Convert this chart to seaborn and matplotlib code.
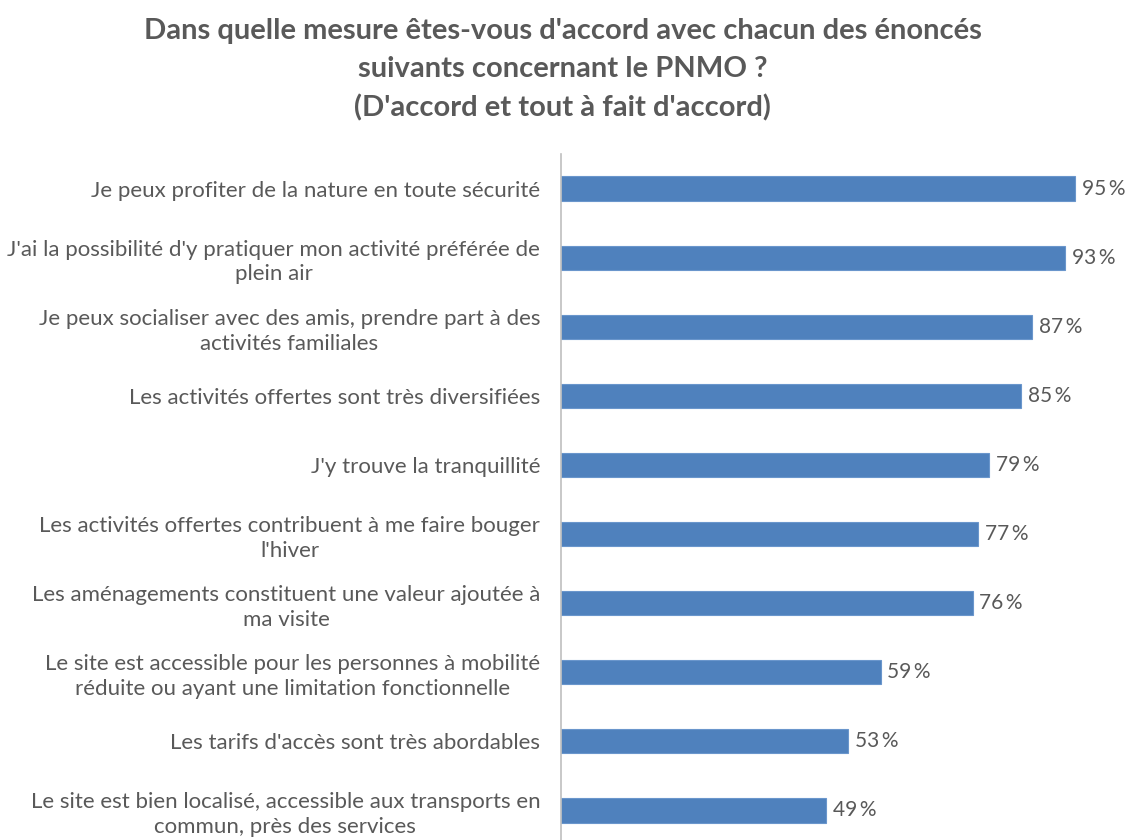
import matplotlib
matplotlib.use("Agg")
import matplotlib.pyplot as plt
import seaborn as sns
import pandas as pd
import numpy as np

statements = [
    "Je peux profiter de la nature en toute sécurité",
    "J'ai la possibilité d'y pratiquer mon activité préférée de\nplein air",
    "Je peux socialiser avec des amis, prendre part à des\nactivités familiales",
    "Les activités offertes sont très diversifiées",
    "J'y trouve la tranquillité",
    "Les activités offertes contribuent à me faire bouger\nl'hiver",
    "Les aménagements constituent une valeur ajoutée à\nma visite",
    "Le site est accessible pour les personnes à mobilité\nréduite ou ayant une limitation fonctionnelle",
    "Les tarifs d'accès sont très abordables",
    "Le site est bien localisé, accessible aux transports en\ncommun, près des services",
]
pct_agree = [95, 93, 87, 85, 79, 77, 76, 59, 53, 49]

df = pd.DataFrame({"statement": statements, "pct": pct_agree})

sns.set_style("white")
plt.rcParams["font.family"] = ["Lato", "DejaVu Sans"]
text_col = "#595959"

fig = plt.figure(figsize=(11.25, 8.4), dpi=100)
ax = fig.add_axes([0.4987, -0.006, 0.4813, 0.8227])

sns.barplot(data=df, x="pct", y="statement", color="#4F81BD", width=0.35,
            saturation=1, ax=ax, edgecolor="#6A96CC", linewidth=0.8)

ax.set_xlim(0, 100)
ax.set_ylim(len(statements) - 0.5, -0.5)
ax.set_xlabel("")
ax.set_ylabel("")
ax.set_xticks([])

for s in ["top", "right", "bottom"]:
    ax.spines[s].set_visible(False)
ax.spines["left"].set_color("#BFBFBF")
ax.spines["left"].set_linewidth(1.2)

ax.tick_params(axis="y", which="major", length=0, pad=15, labelsize=16, labelcolor=text_col)
ax.set_yticks(np.arange(-0.5, len(statements)), minor=True)
ax.tick_params(axis="y", which="minor", length=5, color="#BFBFBF", width=1.2)
for lbl in ax.get_yticklabels():
    lbl.set_multialignment("center")
    lbl.set_linespacing(1.3)

ax.bar_label(ax.containers[0], labels=[f"{v}\u2009%" for v in pct_agree], padding=5,
             fontsize=15, color=text_col)

fig.suptitle("Dans quelle mesure êtes-vous d'accord avec chacun des énoncés\n"
             "suivants concernant le PNMO ?\n(D'accord et tout à fait d'accord)",
             x=0.5, y=0.978, fontsize=21, fontweight="bold", color=text_col,
             linespacing=1.55)

fig.savefig("out.png", dpi=100)
